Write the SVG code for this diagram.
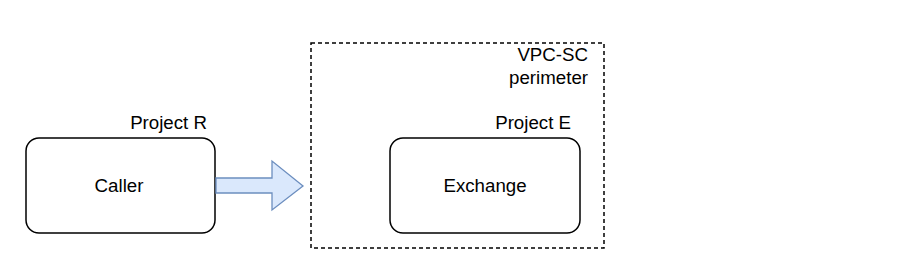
<svg xmlns="http://www.w3.org/2000/svg" width="917" height="276" viewBox="0 0 917 276">
<style>
.box{fill:#ffffff;stroke:#000000;stroke-width:1.5}
.lbl{font-family:"Liberation Sans",Arial,sans-serif;font-size:18.7px;fill:#000000}
.mid{text-anchor:middle}
.end{text-anchor:end}
.perim{fill:none;stroke:#000000;stroke-width:1.5;stroke-dasharray:4 3}
.arrow{fill:#dae8fc;stroke:#6c8ebf;stroke-width:1.3;stroke-linejoin:miter}
</style>
<rect x="0" y="0" width="917" height="276" fill="#ffffff"/>
<g id="perimeter">
<rect class="perim" x="311" y="43" width="293" height="205"/>
<text class="lbl end" x="588" y="61">VPC-SC</text>
<text class="lbl end" x="588" y="84">perimeter</text>
</g>
<g id="caller">
<text class="lbl end" x="207" y="129">Project R</text>
<rect class="box" x="26" y="138" width="189" height="95" rx="13" ry="13"/>
<text class="lbl mid" x="119" y="192">Caller</text>
</g>
<g id="exchange">
<text class="lbl end" x="571" y="129">Project E</text>
<rect class="box" x="390" y="138" width="190" height="95" rx="13" ry="13"/>
<text class="lbl mid" x="485" y="192">Exchange</text>
</g>
<g id="connectors">
<path class="arrow" d="M216 178 L272 178 L272 161 L303 186 L272 210 L272 193 L216 193 Z"/>
</g>
</svg>
